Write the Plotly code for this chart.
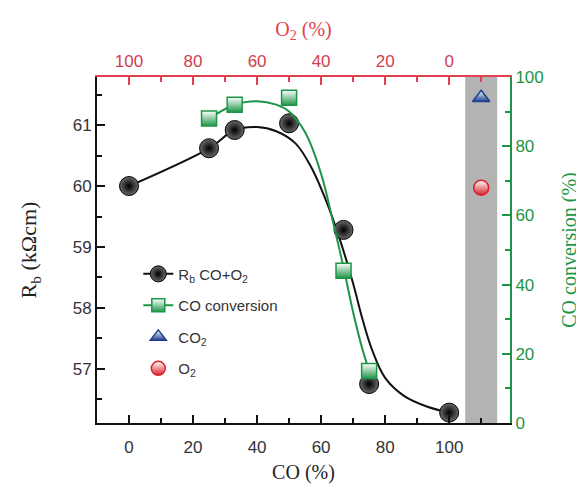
import plotly.graph_objects as go

# measured data
co_pct = [0, 25, 33, 50, 67, 75, 100]
rb_vals = [60.0, 60.62, 60.92, 61.03, 59.28, 56.75, 56.28]

conv_co = [25, 33, 50, 67, 75]
conv_vals = [88, 92, 94, 44, 15]

# fitted guide curves
rb_fit_x = [0, 25, 33, 40, 46, 52, 57, 62, 66, 70, 73, 76, 80, 86, 93, 100]
rb_fit_y = [60.0, 60.62, 60.92, 60.97, 60.9, 60.7, 60.3, 59.7, 59.1, 58.4, 57.8, 57.3, 56.85, 56.55, 56.38, 56.28]

conv_fit_x = [25, 33, 40, 46, 50, 55, 60, 64, 67, 70, 73, 75]
conv_fit_y = [88, 92, 93, 92, 90, 84, 72, 57, 45, 32, 21, 15]

ref_x = [110]
co2_val = [94]
o2_val = [68]

BLACK = "#111111"
GREEN = "#1d9546"
RED = "#e0424f"
BLUE = "#1f3f8f"
ORED = "#d8202a"
serif = "Liberation Serif"
sans = "Liberation Sans"

ball = dict(symbol="circle", size=19, color="#6a6a6a",
            gradient=dict(type="radial", color="#000000"), line=dict(color="#000", width=1))
sq = dict(symbol="square", size=15, color="white",
          gradient=dict(type="vertical", color=GREEN), line=dict(color=GREEN, width=1.5))
tri = dict(symbol="triangle-up", size=15, color="white",
           gradient=dict(type="vertical", color=BLUE), line=dict(color=BLUE, width=1.5))
circ = dict(symbol="circle", size=15, color="white",
            gradient=dict(type="vertical", color=ORED), line=dict(color=ORED, width=1.5))

fig = go.Figure()

fig.add_shape(type="rect", xref="x", yref="paper", x0=105, x1=115, y0=0, y1=1,
              fillcolor="#b3b3b3", line_width=0, layer="below")

fig.add_trace(go.Scatter(x=rb_fit_x, y=rb_fit_y, mode="lines", line=dict(color=BLACK, width=2, shape="spline"),
                         showlegend=False, hoverinfo="skip"))
fig.add_trace(go.Scatter(x=conv_fit_x, y=conv_fit_y, yaxis="y2", mode="lines",
                         line=dict(color=GREEN, width=2, shape="spline"), showlegend=False, hoverinfo="skip"))

fig.add_trace(go.Scatter(x=co_pct, y=rb_vals, mode="markers", marker=ball, showlegend=False))
fig.add_trace(go.Scatter(x=conv_co, y=conv_vals, yaxis="y2", mode="markers", marker=sq, showlegend=False))
fig.add_trace(go.Scatter(x=ref_x, y=co2_val, yaxis="y2", mode="markers", marker=tri, showlegend=False))
fig.add_trace(go.Scatter(x=ref_x, y=o2_val, yaxis="y2", mode="markers", marker=circ, showlegend=False))

# legend entries
fig.add_trace(go.Scatter(x=[None], y=[None], mode="lines+markers", name="R<sub>b</sub> CO+O<sub>2</sub>",
                         legendgroup="a", line=dict(color=BLACK, width=2), marker={**ball, "size": 16}))
fig.add_trace(go.Scatter(x=[None], y=[None], mode="lines+markers", name="CO conversion",
                         legendgroup="b", line=dict(color=GREEN, width=2), marker={**sq, "size": 13}))
fig.add_trace(go.Scatter(x=[None], y=[None], mode="markers", name="CO<sub>2</sub>",
                         legendgroup="c", marker={**tri, "size": 14}))
fig.add_trace(go.Scatter(x=[None], y=[None], mode="markers", name="O<sub>2</sub>",
                         legendgroup="d", marker={**circ, "size": 14}))
# dummy for top axis
fig.add_trace(go.Scatter(x=[None], y=[None], xaxis="x2", showlegend=False))

fig.update_layout(
    width=576, height=481,
    margin=dict(l=89, r=74, t=69, b=66),
    plot_bgcolor="white", paper_bgcolor="white",
    font=dict(family=sans, size=16, color="#333"),
    showlegend=True,
    legend=dict(x=0.1, y=0.478, xanchor="left", yanchor="top", bgcolor="rgba(0,0,0,0)",
                font=dict(family=sans, size=15, color="#333"), tracegroupgap=9),
    xaxis=dict(range=[-10, 119], tickvals=[0, 20, 40, 60, 80, 100], ticks="inside", ticklen=8,
               tickwidth=1.5, tickcolor=BLACK, showline=True, linecolor=BLACK, linewidth=2,
               showgrid=False, zeroline=False, automargin=False, ticklabelstandoff=8,
               minor=dict(dtick=10, tick0=0, ticks="inside", ticklen=5, tickcolor=BLACK),
               title=dict(text="CO (%)", font=dict(family=serif, size=20, color="#222"), standoff=9),
               tickfont=dict(family=sans, size=17, color="#333")),
    xaxis2=dict(overlaying="x", side="top", range=[110, -19], tickvals=[100, 80, 60, 40, 20, 0],
                ticks="inside", ticklen=8, tickwidth=1.5, tickcolor=RED, showline=True, linecolor=RED,
                linewidth=2, showgrid=False, zeroline=False, automargin=False, ticklabelstandoff=1,
                minor=dict(dtick=10, tick0=0, ticks="inside", ticklen=5, tickcolor=RED),
                title=dict(text="O<sub>2</sub> (%)", font=dict(family=serif, size=20, color=RED), standoff=10),
                tickfont=dict(family=sans, size=17, color="#d0404f")),
    yaxis=dict(range=[56.11, 61.79], tickvals=[57, 58, 59, 60, 61], ticks="inside", ticklen=8,
               tickwidth=1.5, tickcolor=BLACK, showline=True, linecolor=BLACK, linewidth=2,
               showgrid=False, zeroline=False, automargin=False,
               minor=dict(dtick=0.5, tick0=56, ticks="inside", ticklen=5, tickcolor=BLACK),
               title=dict(text="R<sub>b</sub> (kΩcm)", font=dict(family=serif, size=22, color="#222"), standoff=30),
               tickfont=dict(family=sans, size=17, color="#333")),
    yaxis2=dict(overlaying="y", side="right", range=[0, 100], tickvals=[0, 20, 40, 60, 80, 100],
                ticks="inside", ticklen=8, tickwidth=1.5, tickcolor=GREEN, showline=True, linecolor=GREEN,
                linewidth=2, showgrid=False, zeroline=False, automargin=False,
                minor=dict(dtick=10, tick0=0, ticks="inside", ticklen=5, tickcolor=GREEN),
                title=dict(text="CO conversion (%)", font=dict(family=serif, size=20, color=GREEN), standoff=19),
                tickfont=dict(family=sans, size=17, color=GREEN)),
)

fig.write_html("out.html")
